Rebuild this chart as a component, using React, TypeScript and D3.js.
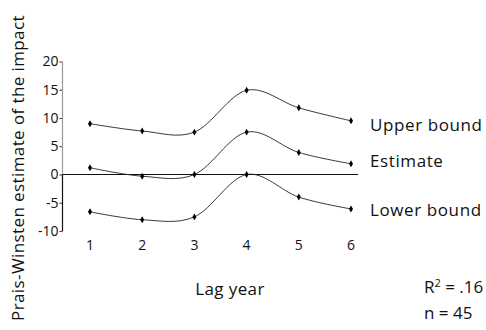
import React from 'react';
import * as d3 from 'd3';

const lagYears = [1, 2, 3, 4, 5, 6];
const upperBound = [9.0, 7.7, 7.5, 14.9, 11.8, 9.5];
const estimate = [1.2, -0.3, 0.0, 7.5, 3.9, 1.9];
const lowerBound = [-6.6, -8.0, -7.5, 0.0, -4.0, -6.1];
const seriesNames = ['Upper bound', 'Estimate', 'Lower bound'];
const yTicks = [-10, -5, 0, 5, 10, 15, 20];

const FONT = "'Open Sans', 'Noto Sans', sans-serif";

class App extends React.Component {
    svgRef = React.createRef<SVGSVGElement>();

    componentDidMount() {
        this.drawChart();
    }

    drawChart() {
        const svg = d3.select(this.svgRef.current);
        svg.selectAll('*').remove();

        const x = d3.scaleLinear().domain([1, 6]).range([90, 351]);
        const y = d3.scaleLinear().domain([-10, 20]).range([231, 61.5]);
        const axisX = 62.5;

        // y axis: grey above zero, black below
        const yAxis = d3.axisLeft(y).tickValues(yTicks).tickSize(3).tickFormat(d => String(d));
        const g = svg.append('g')
            .attr('transform', `translate(${axisX},0)`)
            .call(yAxis);
        g.select('.domain').remove();
        g.selectAll('.tick line').attr('stroke', '#333');
        g.selectAll('.tick text')
            .attr('font-family', FONT)
            .attr('font-size', 14)
            .attr('fill', '#111')
            .attr('x', -4);
        g.append('line')
            .attr('x1', 0).attr('x2', 0)
            .attr('y1', y(20)).attr('y2', y(0))
            .attr('stroke', '#999').attr('stroke-width', 1.2);
        g.append('line')
            .attr('x1', 0).attr('x2', 0)
            .attr('y1', y(0)).attr('y2', y(-10))
            .attr('stroke', '#111').attr('stroke-width', 1.2);

        // zero line
        svg.append('line')
            .attr('x1', axisX).attr('x2', 358)
            .attr('y1', y(0)).attr('y2', y(0))
            .attr('stroke', '#111').attr('stroke-width', 1.2);

        // x tick labels (no axis line)
        svg.append('g')
            .selectAll('text')
            .data(lagYears)
            .join('text')
            .attr('x', d => x(d))
            .attr('y', 250)
            .attr('text-anchor', 'middle')
            .attr('font-family', FONT)
            .attr('font-size', 14)
            .attr('fill', '#111')
            .text(d => d);

        const line = d3.line<number>()
            .curve(d3.curveCardinal.tension(0))
            .x((d, i) => x(lagYears[i]))
            .y(d => y(d));

        const allSeries = [upperBound, estimate, lowerBound];
        const labelBaseline = [130.5, 167, 216];

        allSeries.forEach((values, k) => {
            svg.append('path')
                .datum(values)
                .attr('fill', 'none')
                .attr('stroke', '#222')
                .attr('stroke-width', 0.9)
                .attr('d', line);

            svg.append('g')
                .selectAll('path')
                .data(values)
                .join('path')
                .attr('transform', (d, i) => `translate(${x(lagYears[i])},${y(d)})`)
                .attr('d', d3.symbol(d3.symbolDiamond, 14))
                .attr('fill', '#000');

            svg.append('text')
                .attr('x', 370)
                .attr('y', labelBaseline[k])
                .attr('font-family', FONT)
                .attr('font-size', 17)
                .attr('letter-spacing', 0.6)
                .attr('fill', '#111')
                .text(seriesNames[k]);
        });

        // axis titles
        svg.append('text')
            .attr('transform', `translate(24,168) rotate(-90)`)
            .attr('text-anchor', 'middle')
            .attr('font-family', FONT)
            .attr('font-size', 17)
            .attr('letter-spacing', 0.4)
            .attr('fill', '#111')
            .text('Prais-Winsten estimate of the impact');

        svg.append('text')
            .attr('x', 230)
            .attr('y', 295)
            .attr('text-anchor', 'middle')
            .attr('font-family', FONT)
            .attr('font-size', 17)
            .attr('letter-spacing', 0.4)
            .attr('fill', '#111')
            .text('Lag year');

        const r2 = svg.append('text')
            .attr('x', 424)
            .attr('y', 293)
            .attr('font-family', FONT)
            .attr('font-size', 17)
            .attr('fill', '#111');
        r2.append('tspan').text('R');
        r2.append('tspan').attr('font-size', 11).attr('dy', -6).text('2');
        r2.append('tspan').attr('dy', 6).text(' = .16');

        svg.append('text')
            .attr('x', 424)
            .attr('y', 319)
            .attr('font-family', FONT)
            .attr('font-size', 17)
            .attr('fill', '#111')
            .text('n = 45');
    }

    render() {
        return <svg ref={this.svgRef} width={486} height={330}
            style={{ position: 'absolute', left: 0, top: 0, background: '#fff' }} />;
    }
}

export default App;
